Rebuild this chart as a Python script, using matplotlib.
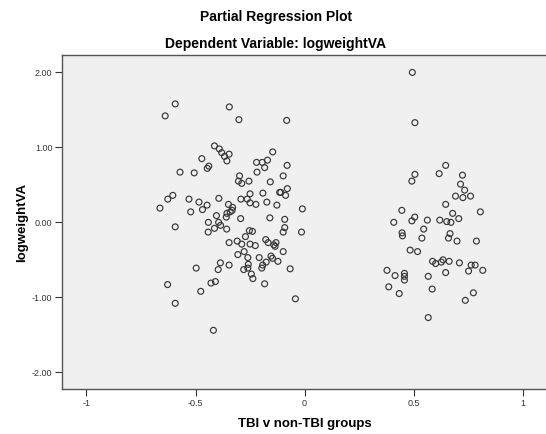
#Partial regression plot, SPSS look
import matplotlib
matplotlib.use("Agg")
import matplotlib.pyplot as plt

plt.rcParams['font.family'] = ['Liberation Sans', 'DejaVu Sans']

#Data
#//////////////////////////////////////////////////////////
#left cluster (TBI residuals)
leftX = [-0.663, -0.639, -0.593, -0.627, -0.604, -0.593, -0.628, -0.593, -0.571, -0.530,
         -0.522, -0.506, -0.497, -0.484, -0.476, -0.471, -0.468, -0.447, -0.446, -0.439,
         -0.441, -0.442, -0.429, -0.409, -0.418, -0.413, -0.391, -0.380, -0.367, -0.356,
         -0.346, -0.404, -0.393, -0.394, -0.385, -0.413, -0.386, -0.396, -0.357, -0.359,
         -0.356, -0.349, -0.341, -0.345, -0.330, -0.332, -0.346, -0.346, -0.301, -0.298,
         -0.303, -0.288, -0.293, -0.292, -0.309, -0.288, -0.306, -0.277, -0.271, -0.279,
         -0.263, -0.255, -0.250, -0.250, -0.253, -0.239, -0.250, -0.260, -0.258, -0.260,
         -0.244, -0.237, -0.226, -0.223, -0.220, -0.218, -0.208, -0.196, -0.192, -0.191,
         -0.194, -0.183, -0.170, -0.178, -0.176, -0.183, -0.173, -0.167, -0.157, -0.159,
         -0.154, -0.146, -0.147, -0.141, -0.135, -0.131, -0.127, -0.122, -0.114, -0.109,
         -0.098, -0.098, -0.098, -0.091, -0.091, -0.087, -0.080, -0.079, -0.082, -0.066,
         -0.042, -0.014, -0.010]
leftY = [0.19, 1.42, 1.58, 0.31, 0.36, -0.06, -0.83, -1.08, 0.67, 0.31,
         0.14, 0.66, -0.61, 0.27, -0.92, 0.85, 0.17, 0.23, 0.72, 0.75,
         0.00, -0.13, -0.81, -0.79, -1.44, 1.02, 0.98, 0.93, 0.88, 0.82,
         0.91, 0.09, 0.32, 0.00, -0.04, -0.08, -0.54, -0.63, -0.09, 0.07,
         0.12, 0.24, 0.14, 1.54, 0.20, 0.16, -0.27, -0.57, 1.37, 0.62,
         0.55, 0.52, 0.05, 0.31, -0.25, -0.29, -0.43, -0.39, -0.19, -0.63,
         0.31, 0.55, 0.38, 0.26, -0.11, -0.12, -0.29, -0.47, -0.56, -0.61,
         -0.69, -0.75, -0.31, 0.24, 0.80, 0.67, -0.47, -0.61, -0.57, 0.39,
         0.80, 0.73, 0.83, -0.23, -0.53, -0.82, 0.27, -0.27, 0.54, 0.06,
         -0.45, 0.94, -0.48, -0.30, -0.32, -0.27, 0.23, -0.52, 0.40, 0.40,
         0.62, -0.13, -0.39, 0.04, -0.07, 0.36, 0.76, 0.45, 1.36, -0.62,
         -1.02, -0.13, 0.18]

#right cluster (non-TBI residuals)
rightX = [0.494, 0.506, 0.506, 0.492, 0.647, 0.617, 0.724, 0.715, 0.734, 0.692,
          0.726, 0.761, 0.647, 0.806, 0.679, 0.707, 0.446, 0.409, 0.505, 0.492,
          0.563, 0.620, 0.652, 0.671, 0.546, 0.447, 0.449, 0.538, 0.667, 0.660,
          0.699, 0.788, 0.484, 0.518, 0.587, 0.601, 0.627, 0.635, 0.663, 0.710,
          0.764, 0.782, 0.817, 0.378, 0.415, 0.458, 0.458, 0.458, 0.567, 0.647,
          0.752, 0.386, 0.434, 0.585, 0.774, 0.737, 0.567]
rightY = [2.00, 1.33, 0.64, 0.55, 0.76, 0.65, 0.63, 0.51, 0.43, 0.35,
          0.33, 0.35, 0.24, 0.14, 0.12, 0.05, 0.16, 0.00, 0.07, 0.02,
          0.03, 0.03, 0.01, 0.00, -0.09, -0.14, -0.18, -0.21, -0.15, -0.21,
          -0.25, -0.25, -0.37, -0.39, -0.52, -0.55, -0.53, -0.50, -0.52, -0.54,
          -0.57, -0.57, -0.64, -0.64, -0.71, -0.68, -0.72, -0.77, -0.72, -0.67,
          -0.65, -0.86, -0.95, -0.89, -0.94, -1.04, -1.27]

xTicks = [-1, -0.5, 0, 0.5, 1]
xTickLabels = ["-1", "-0.5", "0", "0.5", "1"]
yTicks = [-2, -1, 0, 1, 2]
yTickLabels = ["-2.00", "-1.00", "0.00", "1.00", "2.00"]

#Plot
#//////////////////////////////////////////////////////////
fig = plt.figure(figsize=(5.46, 4.34), dpi=100)
ax = fig.add_axes([0.114, 0.103, 0.89, 0.770])
ax.set_facecolor("#f0f0f0")

for xs, ys in [(leftX, leftY), (rightX, rightY)]:
    ax.scatter(xs, ys, s=18, facecolors="none", edgecolors="#363636", linewidths=0.85)

ax.set_xlim(-1.111, 1.117)
ax.set_ylim(-2.227, 2.231)
ax.set_xticks(xTicks)
ax.set_xticklabels(xTickLabels)
ax.set_yticks(yTicks)
ax.set_yticklabels(yTickLabels)
ax.tick_params(direction="out", length=5, width=0.8, labelsize=6.5, colors="#333333", pad=2)

for side in ax.spines.values():
    side.set_color("#555555")
    side.set_linewidth(1.0)

ax.set_xlabel("TBI v non-TBI groups", fontsize=9.5, fontweight="bold", labelpad=7)
ax.set_ylabel("logweightVA", fontsize=9.5, fontweight="bold", labelpad=3)

fig.text(0.505, 0.96, "Partial Regression Plot", ha="center", va="center", fontsize=10, fontweight="bold")
fig.text(0.505, 0.898, "Dependent Variable: logweightVA", ha="center", va="center", fontsize=10, fontweight="bold")

fig.savefig("out.png", dpi=100)
